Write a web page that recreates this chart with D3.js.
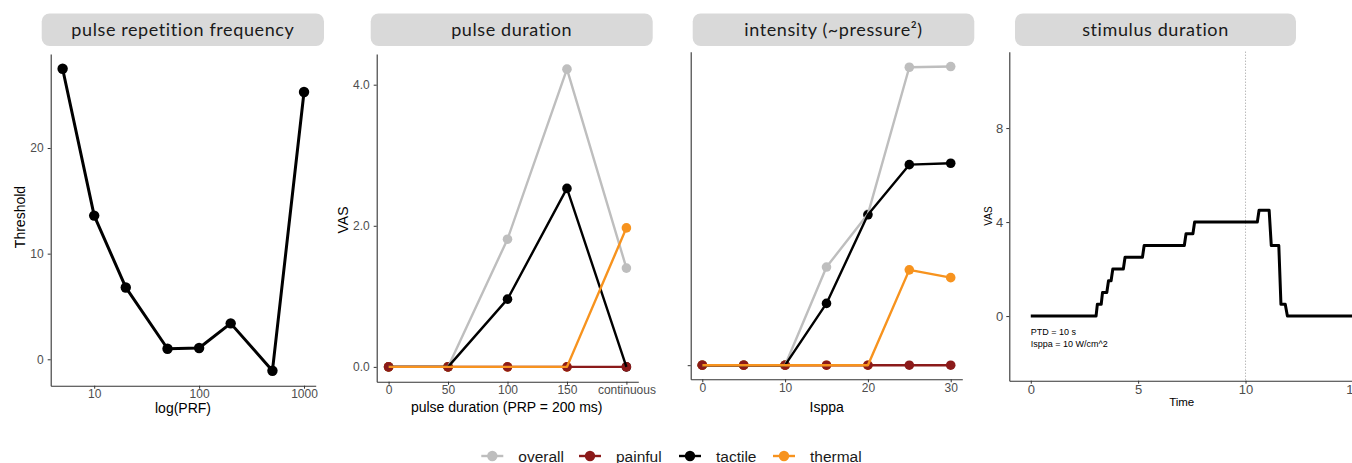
<!DOCTYPE html>
<html>
<head>
<meta charset="utf-8">
<script src="https://cdn.jsdelivr.net/npm/d3@7"></script>
<style>
  body { margin: 0; background: #fff; }
  svg { display: block; }
  .tick text { font-family: "Liberation Sans", Arial, sans-serif; fill: #4d4d4d; }
  .tick line { stroke: #333; }
  .domain { stroke: #333; }
</style>
</head>
<body>
<svg id="chart" width="1352" height="463"></svg>
<script>
// series
const seriesNames = ['overall', 'painful', 'tactile', 'thermal'];
const seriesColors = ['#bebebe', '#8b1a1a', '#000000', '#f7931e'];

// panel 1: pulse repetition frequency
const prf = [5, 10, 20, 50, 100, 200, 500, 1000];
const prfThreshold = [27.5, 13.6, 6.8, 1.0, 1.07, 3.4, -1.08, 25.3];
const prfTicks = [10, 100, 1000];
const thresholdTicks = [0, 10, 20];

// panel 2: pulse duration
const pdX = [0, 50, 100, 150, 200];
const pdLabels = ['0', '50', '100', '150', 'continuous'];
const pdOverall = [0, 0, 1.81, 4.22, 1.40];
const pdPainful = [0, 0, 0, 0, 0];
const pdTactile = [0, 0, 0.96, 2.53, 0];
const pdThermal = [0, 0, 0, 0, 1.97];
const vasTicks = [0, 2, 4];

// panel 3: intensity
const isppa = [0, 5, 10, 15, 20, 25, 30];
const inOverall = [0, 0, 0, 1.39, 2.14, 4.22, 4.23];
const inPainful = [0, 0, 0, 0, 0, 0, 0];
const inTactile = [0, 0, 0, 0.875, 2.13, 2.84, 2.86];
const inThermal = [0, 0, 0, 0, 0, 1.35, 1.24];
const isppaTicks = [0, 10, 20, 30];

// panel 4: stimulus duration
const sdTime = [0, 3.04, 3.1, 3.28, 3.34, 3.54, 3.62, 3.74, 3.82, 4.31, 4.39, 5.2, 5.28, 7.15, 7.23, 7.55, 7.63,
  10.55, 10.63, 11.1, 11.2, 11.55, 11.65, 11.85, 11.95, 15];
const sdVas = [0, 0, 0.5, 0.5, 1, 1, 1.5, 1.5, 2, 2, 2.5, 2.5, 3, 3, 3.5, 3.5, 4,
  4, 4.5, 4.5, 3, 3, 0.5, 0.5, 0, 0];
const timeTicks = [0, 5, 10, 15];
const sdVasTicks = [0, 4, 8];
const stimEnd = 10;

const svg = d3.select('#chart');
const sans = '"Liberation Sans", Arial, sans-serif';

function strip(x0, x1, label) {
  svg.append('rect')
    .attr('x', x0).attr('y', 13.5)
    .attr('width', x1 - x0).attr('height', 32.5)
    .attr('rx', 8).attr('ry', 8)
    .attr('fill', '#d9d9d9');
  svg.append('text')
    .attr('x', (x0 + x1) / 2).attr('y', 36)
    .attr('text-anchor', 'middle')
    .style('font-family', 'Lato, "Noto Sans", sans-serif')
    .style('font-size', '18px')
    .style('letter-spacing', '0.6px')
    .style('fill', '#1a1a1a')
    .text(label);
}

function axes(x, y, xAxis, yAxis, fontSize) {
  const [top, bottom] = [y.range()[1], y.range()[0]];
  const left = x.range()[0];
  const gx = svg.append('g').attr('transform', 'translate(0,' + bottom + ')').call(xAxis);
  const gy = svg.append('g').attr('transform', 'translate(' + left + ',0)').call(yAxis);
  [gx, gy].forEach(g => {
    g.selectAll('.tick text').style('font-size', fontSize + 'px');
    g.select('.domain').attr('stroke-width', 1.1);
  });
}

function axisTitle(x, y, label, size, rotate) {
  const t = svg.append('text')
    .attr('text-anchor', 'middle')
    .style('font-family', sans)
    .style('font-size', size + 'px')
    .style('fill', '#000')
    .text(label);
  if (rotate) t.attr('transform', 'translate(' + x + ',' + y + ') rotate(-90)');
  else t.attr('x', x).attr('y', y);
}

// ---------- panel 1 ----------
strip(41.7, 324, 'pulse repetition frequency');
const x1 = d3.scaleLog().domain([3.85, 1292]).range([50.7, 315.7]);
const y1 = d3.scaleLinear().domain([-2.5, 28.9]).range([385.7, 54]);
axes(x1, y1,
  d3.axisBottom(x1).tickValues(prfTicks).tickSize(3).tickPadding(1).tickSizeOuter(0).tickFormat(d3.format('d')),
  d3.axisLeft(y1).tickValues(thresholdTicks).tickSize(3).tickPadding(4).tickSizeOuter(0),
  12);
svg.append('path')
  .datum(prf.map((p, i) => [p, prfThreshold[i]]))
  .attr('fill', 'none').attr('stroke', '#000').attr('stroke-width', 3)
  .attr('stroke-linejoin', 'round')
  .attr('d', d3.line().x(d => x1(d[0])).y(d => y1(d[1])));
svg.selectAll('.p1pt').data(prf).enter().append('circle')
  .attr('cx', d => x1(d)).attr('cy', (d, i) => y1(prfThreshold[i]))
  .attr('r', 5.2).attr('fill', '#000');
axisTitle(183, 413, 'log(PRF)', 14, false);
axisTitle(25, 217, 'Threshold', 14, true);

// shared drawing of the four VAS series
function drawSeries(x, y, xs, seriesList) {
  // points first (painful on top), lines above
  [0, 2, 3, 1].forEach(k => {
    svg.append('g').selectAll('circle').data(xs).enter().append('circle')
      .attr('cx', d => x(d)).attr('cy', (d, i) => y(seriesList[k][i]))
      .attr('r', 4.8).attr('fill', seriesColors[k]);
  });
  seriesList.forEach((vals, k) => {
    svg.append('path')
      .datum(xs.map((v, i) => [v, vals[i]]))
      .attr('fill', 'none').attr('stroke', seriesColors[k]).attr('stroke-width', 2.4)
      .attr('stroke-linejoin', 'round')
      .attr('d', d3.line().x(d => x(d[0])).y(d => y(d[1])));
  });
}

// ---------- panel 2 ----------
strip(370.7, 652.7, 'pulse duration');
const x2 = d3.scaleLinear().domain([-10, 210]).range([376.7, 638.3]);
const y2 = d3.scaleLinear().domain([-0.21, 4.435]).range([381.7, 54]);
axes(x2, y2,
  d3.axisBottom(x2).tickValues(pdX).tickSize(3).tickPadding(1).tickSizeOuter(0).tickFormat((d, i) => pdLabels[i]),
  d3.axisLeft(y2).tickValues(vasTicks).tickSize(3).tickPadding(4).tickSizeOuter(0).tickFormat(d3.format('.1f')),
  12);
drawSeries(x2, y2, pdX, [pdOverall, pdPainful, pdTactile, pdThermal]);
axisTitle(506.7, 412, 'pulse duration (PRP = 200 ms)', 14, false);
axisTitle(348, 220, 'VAS', 14, true);

// ---------- panel 3 ----------
strip(692.7, 974.3, 'intensity (~pressure²)');
const x3 = d3.scaleLinear().domain([-1.4, 31.4]).range([690.7, 962.3]);
const y3 = d3.scaleLinear().domain([-0.2, 4.44]).range([379.3, 51.7]);
axes(x3, y3,
  d3.axisBottom(x3).tickValues(isppaTicks).tickSize(3).tickPadding(1).tickSizeOuter(0),
  d3.axisLeft(y3).tickValues([0]).tickSize(3).tickSizeOuter(0).tickFormat(''),
  12);
drawSeries(x3, y3, isppa, [inOverall, inPainful, inTactile, inThermal]);
axisTitle(826.7, 412, 'Isppa', 14, false);

// ---------- panel 4 ----------
strip(1015, 1296, 'stimulus duration');
const x4 = d3.scaleLinear().domain([-1, 15.75]).range([1009.3, 1369]);
const y4 = d3.scaleLinear().domain([-2.75, 11.25]).range([380.7, 51.7]);
axes(x4, y4,
  d3.axisBottom(x4).tickValues(timeTicks).tickSize(3).tickPadding(1).tickSizeOuter(0),
  d3.axisLeft(y4).tickValues(sdVasTicks).tickSize(3).tickPadding(3).tickSizeOuter(0),
  13);
svg.append('line')
  .attr('x1', x4(stimEnd)).attr('x2', x4(stimEnd))
  .attr('y1', y4.range()[1]).attr('y2', y4.range()[0])
  .attr('stroke', '#9a9a9a').attr('stroke-width', 1).attr('stroke-dasharray', '1,2');
svg.append('path')
  .datum(sdTime.map((t, i) => [t, sdVas[i]]))
  .attr('fill', 'none').attr('stroke', '#000').attr('stroke-width', 3)
  .attr('stroke-linejoin', 'round')
  .attr('d', d3.line().x(d => x4(d[0])).y(d => y4(d[1])));
svg.append('text').attr('x', x4(0)).attr('y', 335)
  .style('font-family', sans).style('font-size', '9px').text('PTD = 10 s');
svg.append('text').attr('x', x4(0)).attr('y', 347)
  .style('font-family', sans).style('font-size', '9px').text('Isppa = 10 W/cm^2');
axisTitle(1181.7, 406, 'Time', 11.5, false);
axisTitle(992, 216, 'VAS', 10, true);

// ---------- legend ----------
const legendX = [492.3, 590, 690, 784];
const lg = svg.append('g');
seriesNames.forEach((name, k) => {
  lg.append('line')
    .attr('x1', legendX[k] - 11).attr('x2', legendX[k] + 11)
    .attr('y1', 456).attr('y2', 456)
    .attr('stroke', seriesColors[k]).attr('stroke-width', 2.4);
  lg.append('circle').attr('cx', legendX[k]).attr('cy', 456).attr('r', 5.2).attr('fill', seriesColors[k]);
  lg.append('text').attr('x', legendX[k] + 26).attr('y', 461.5)
    .style('font-family', sans).style('font-size', '15.5px').style('fill', '#1a1a1a')
    .text(name);
});
</script>
</body>
</html>
